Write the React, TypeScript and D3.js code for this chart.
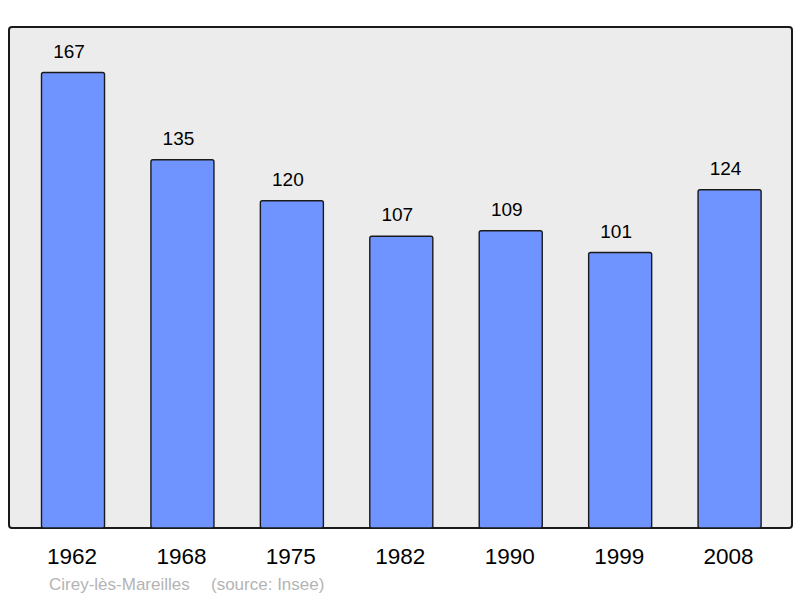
import * as d3 from 'd3';

const YEARS = ['1962', '1968', '1975', '1982', '1990', '1999', '2008'];
const POPULATION = [167, 135, 120, 107, 109, 101, 124];
const PLACE = 'Cirey-lès-Mareilles';
const SOURCE = '(source: Insee)';

export default function App() {
  const w = 800;
  const h = 598;
  const frame = { left: 9, top: 27, right: 792, bottom: 528 };

  const x = d3.scaleBand()
    .domain(YEARS)
    .range([18.3, 784.3])
    .padding(0);

  const barW = x.bandwidth() * 0.576;

  const y = d3.scaleLinear()
    .domain([0, 167 * 1.1])
    .range([frame.bottom, frame.top]);

  const font = 'Liberation Sans, Arial, sans-serif';

  return (
    <svg width={w} height={h} style={{ position: 'absolute', left: 0, top: 0 }}>
      <rect x={0} y={0} width={w} height={h} fill="#fff" />
      {/* Plot frame */}
      <rect
        x={frame.left}
        y={frame.top}
        width={frame.right - frame.left}
        height={frame.bottom - frame.top}
        fill="#ececec"
        stroke="#1a1a1a"
        strokeWidth={2}
        rx={3}
      />

      {YEARS.map((year, i) => {
        const cx = (x(year) ?? 0) + x.bandwidth() / 2;
        const v = POPULATION[i];
        const top = y(v);
        return (
          <g key={year}>
            <rect
              x={cx - barW / 2}
              y={top}
              width={barW}
              height={frame.bottom - top}
              fill="#7094ff"
              stroke="#1a1a1a"
              strokeWidth={1.4}
              rx={2}
            />
            <text x={cx - 4} y={top - 15} textAnchor="middle" fontSize={19} fontFamily={font} fill="#000">
              {v}
            </text>
            <text x={cx - 1} y={564} textAnchor="middle" fontSize={22.5} fontFamily={font} fill="#000">
              {year}
            </text>
          </g>
        );
      })}

      {/* Footer */}
      <text x={49} y={590} fontSize={17} fontFamily={font} fill="#b4b4b4">{PLACE}</text>
      <text x={211} y={590} fontSize={17} fontFamily={font} fill="#b4b4b4">{SOURCE}</text>
    </svg>
  );
}
